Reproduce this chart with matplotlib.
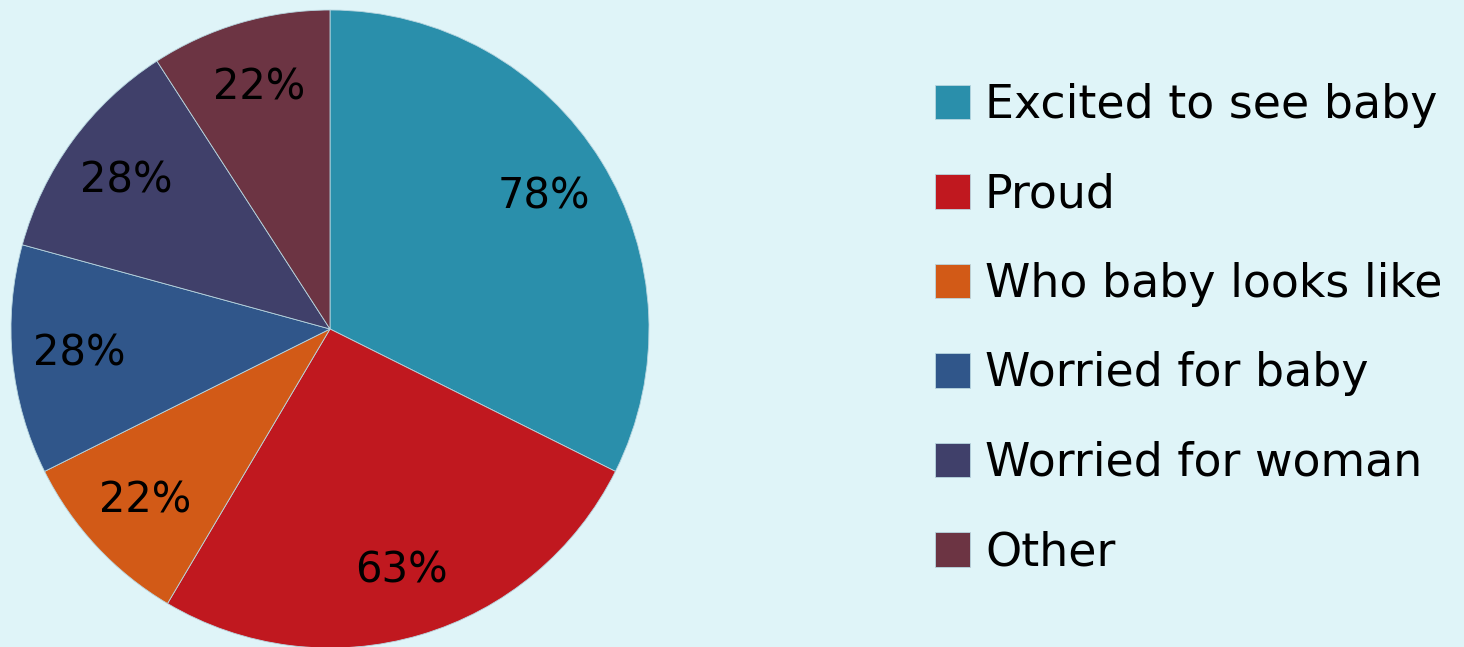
import matplotlib
matplotlib.use("Agg")
import matplotlib.pyplot as plt

categories = ["Excited to see baby", "Proud", "Who baby looks like",
              "Worried for baby", "Worried for woman", "Other"]
values = [78, 63, 22, 28, 28, 22]
colors = ["#2A8FAB", "#C0181F", "#D25A17", "#30568A", "#40406A", "#6C3443"]
bg = "#DFF4F8"

total = sum(values)

fig = plt.figure(figsize=(14.64, 6.47), dpi=100)
fig.patch.set_facecolor(bg)

# pie axes: centre ~ (330, 329) px, radius ~ 319 px
ax = fig.add_axes([11 / 1464, (647 - 329 - 319) / 647, 638 / 1464, 638 / 647])
ax.set_facecolor(bg)

wedges, texts, autotexts = ax.pie(
    values,
    colors=colors,
    startangle=90,
    counterclock=False,
    radius=1.0,
    autopct=lambda p: "{:.0f}%".format(p * total / 100),
    pctdistance=0.79,
    wedgeprops=dict(edgecolor="#B8D6E0", linewidth=0.6),
    textprops=dict(fontsize=30, color="black"),
)
ax.set_xlim(-1, 1)
ax.set_ylim(-1, 1)
ax.set_aspect("equal")
ax.axis("off")

leg = fig.legend(
    wedges, categories,
    loc="upper left",
    bbox_to_anchor=(935 / 1464, 1 - 83 / 647),
    frameon=False,
    fontsize=33,
    handlelength=0.76,
    handleheight=0.78,
    handletextpad=0.33,
    labelspacing=0.97,
    borderpad=0,
    borderaxespad=0,
)

fig.savefig("out.png", dpi=100, facecolor=bg)
